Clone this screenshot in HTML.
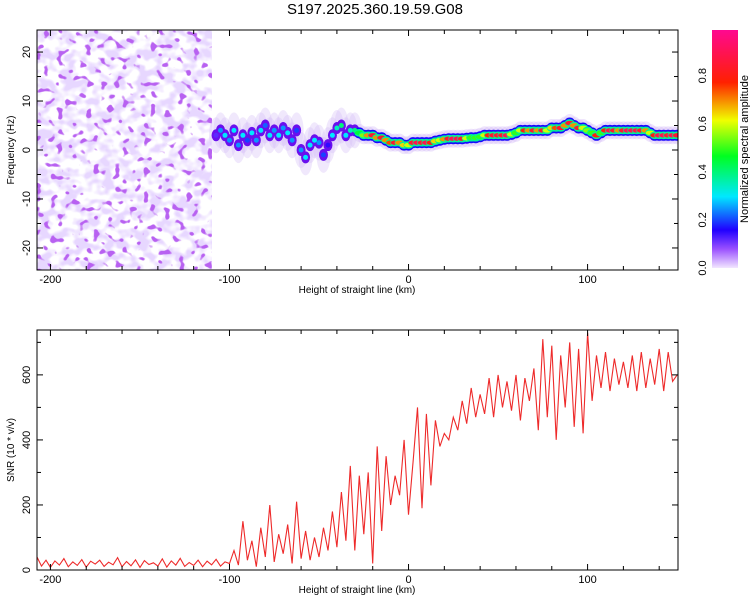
<!DOCTYPE html>
<html><head><meta charset="utf-8"><style>
html,body{margin:0;padding:0;background:#fff}
svg{display:block;font-family:"Liberation Sans",sans-serif}
</style></head><body>
<svg id="chart" width="750" height="600" viewBox="0 0 750 600">
<defs>
<filter id="noiseA" x="0" y="0" width="100%" height="100%">
<feTurbulence type="fractalNoise" baseFrequency="0.08 0.1" numOctaves="2" seed="7"/>
<feColorMatrix values="0 0 0 0 0.8  0 0 0 0 0.68  0 0 0 0 1  5 0 0 0 -2.1"/>
</filter>
<filter id="noiseB" x="0" y="0" width="100%" height="100%">
<feTurbulence type="fractalNoise" baseFrequency="0.14 0.16" numOctaves="1" seed="3"/>
<feColorMatrix values="0 0 0 0 0.48  0 0 0 0 0.12  0 0 0 0 0.88  13 0 0 0 -7.8"/>
</filter>
<linearGradient id="cbar" x1="0" y1="1" x2="0" y2="0">
<stop offset="0" stop-color="#f2e6ff"/><stop offset="0.08" stop-color="#9a50ff"/>
<stop offset="0.16" stop-color="#2000ff"/><stop offset="0.3" stop-color="#00e8ff"/>
<stop offset="0.47" stop-color="#00ff20"/><stop offset="0.62" stop-color="#f0ff00"/>
<stop offset="0.78" stop-color="#ff2000"/><stop offset="1" stop-color="#ff0890"/>
</linearGradient>
<clipPath id="clipTop"><rect x="37" y="30" width="641" height="240"/></clipPath>
<clipPath id="clipBot"><rect x="37" y="330" width="641" height="240"/></clipPath>
</defs>
<text x="375" y="14" font-size="15" text-anchor="middle">S197.2025.360.19.59.G08</text>
<g id="topPanel"></g>
<g id="botPanel"></g>
<g id="cbPanel"></g>
</svg>
<script>
const xTicks=[-200,-100,0,100];
const freqTicks=[-20,-10,0,10,20];
const snrTicks=[0,200,400,600];
const cbTicks=[0.0,0.2,0.4,0.6,0.8];
const ridgeKmStart=-107.5, ridgeStep=2.5;
const ridgeFreq=[3,4,3,2,4,1,3,2,3.5,2,4,5,3,4,3,4.5,3.5,2,4,0,-1.5,1,2,1.5,-1,1,3,
4.5,5,3,4,4,3.5,
3,3,3,2.5,2.5,2,1.5,1.5,1.5,1,1,
1.5,1.5,1.5,1.5,1.5,1.8,2,2.2,2.3,2.3,
2.3,2.3,2.4,2.5,2.5,2.7,3,3,3,3,
3,3,3.2,3.5,4,4,4,4,4,4,
4,4.5,4.5,4.5,5,5.5,5,4.5,4.5,4,
3.5,3,3.5,4,4,4,4,4,4,4,
4,4,4,3.5,3,3,3,3,3,3];
const ridgeAmp=[.12,.25,.3,.25,.3,.25,.3,.2,.3,.25,.3,.22,.3,.25,.3,.25,.3,.25,.2,.25,.3,.3,.3,.25,.2,.15,.3,
.35,.4,.3,.35,.4,.45,
.55,.7,.85,.7,.85,.7,.75,.85,.7,.65,.6,
.85,.9,.85,.9,.8,.65,.6,.7,.85,.9,
.9,.85,.6,.5,.5,.5,.6,.8,.85,.85,
.85,.9,.6,.5,.6,.8,.7,.85,.7,.85,
.6,.65,.75,.85,.7,.85,.7,.85,.6,.55,
.5,.8,.5,.8,.9,.85,.7,.85,.9,.9,
.9,.85,.7,.6,.8,.9,.9,.85,.9,.85];
const snrKmStart=-207.5, snrStep=2.5;
const snrValues=[40,12,30,8,28,15,35,10,25,14,32,9,27,18,30,11,24,16,38,10,26,13,31,8,29,17,22,12,34,9,28,15,36,11,23,14,30,10,27,16,33,12,25,20,
60,15,150,30,90,10,130,40,200,25,110,50,140,20,210,35,
120,30,100,40,130,60,
180,70,240,90,320,60,290,110,300,20,
380,120,350,200,290,230,400,170,
330,500,190,480,260,460,380,420,
400,470,430,520,450,560,470,540,
480,590,470,600,500,580,490,600,460,590,520,620,
430,710,470,690,400,660,500,700,440,680,420,730,
520,660,560,670,550,650,570,640,560,660,550,670,560,650,570,680,550,670,580,600];

const NS='http://www.w3.org/2000/svg';
function mk(tag,attrs,parent){const e=document.createElementNS(NS,tag);for(const k in attrs)e.setAttribute(k,attrs[k]);parent.appendChild(e);return e;}
const L=37,R=678;
const xS=v=>L+(v+207.5)/358*(R-L);
const fS=v=>30+(24.5-v)/49*240;
const sS=v=>570-v/738*240;
const cS=v=>268-v/0.99*238;
const stops=[[0,[242,230,255]],[.08,[154,80,255]],[.16,[32,0,255]],[.3,[0,232,255]],[.47,[0,255,32]],[.62,[240,255,0]],[.78,[255,32,0]],[1,[255,8,144]]];
function cmap(a){for(let i=1;i<stops.length;i++){if(a<=stops[i][0]){const t=(a-stops[i-1][0])/(stops[i][0]-stops[i-1][0]);const c=stops[i-1][1].map((v,j)=>Math.round(v+(stops[i][1][j]-v)*t));return `rgb(${c})`;}}return 'rgb(255,8,144)';}

function axes(g,y0,y1,yTicks,yS,minorY,yLabel){
  const fr=mk('rect',{x:L,y:y0,width:R-L,height:y1-y0,fill:'none',stroke:'#000','stroke-width':1},g);
  
  
  for(let v=-200;v<=140;v+=20){const x=xS(v);const big=v%100===0;const len=big?6:4;
    mk('line',{x1:x,y1:y1,x2:x,y2:y1-len,stroke:'#000'},g);mk('line',{x1:x,y1:y0,x2:x,y2:y0+len,stroke:'#000'},g);}
  xTicks.forEach(v=>{const t=mk('text',{x:xS(v),y:y1+13,'font-size':11,'text-anchor':'middle'},g);t.textContent=v;
    
    });
  const xl=mk('text',{x:357,y:y1+23,'font-size':10,'text-anchor':'middle'},g);xl.textContent='Height of straight line (km)';
  
  
  minorY.forEach(v=>{const y=yS(v);const big=yTicks.includes(v);const len=big?6:4;
    mk('line',{x1:L,y1:y,x2:L+len,y2:y,stroke:'#000'},g);mk('line',{x1:R,y1:y,x2:R-len,y2:y,stroke:'#000'},g);});
  yTicks.forEach(v=>{const y=yS(v);const t=mk('text',{x:0,y:0,'font-size':11,'text-anchor':'middle',transform:`translate(30,${y}) rotate(-90)`},g);t.textContent=v;
    
    });
  const yl=mk('text',{x:0,y:0,'font-size':10,'text-anchor':'middle',transform:`translate(14,${(y0+y1)/2}) rotate(-90)`},g);yl.textContent=yLabel;
  
  
}

// top spectrogram
const topG=document.getElementById('topPanel');
const tg=mk('g',{'clip-path':'url(#clipTop)'},topG);
const nx=xS(-110);
mk('rect',{x:L,y:30,width:nx-L,height:240,filter:'url(#noiseA)'},tg);
mk('rect',{x:L,y:30,width:nx-L,height:240,filter:'url(#noiseB)'},tg);
ridgeFreq.forEach((f,i)=>{const km=ridgeKmStart+i*ridgeStep;const x=xS(km),y=fS(f);const a=ridgeAmp[i];
  const h=mk('ellipse',{cx:x,cy:y,rx:7,ry:a<0.45?18:9,fill:'#d4bcf7',opacity:a<0.45?0.35:0.4},tg);
  
  });
ridgeFreq.forEach((f,i)=>{const km=ridgeKmStart+i*ridgeStep;const x=xS(km),y=fS(f);const a=ridgeAmp[i];
  const b=mk('ellipse',{cx:x,cy:y,rx:a<0.45?4.5:5.5,ry:a<0.45?6:5.5,fill:a<0.45?'#6a10ee':'#1808ff'},tg);
  
  });
ridgeFreq.forEach((f,i)=>{const km=ridgeKmStart+i*ridgeStep;const x=xS(km),y=fS(f);const a=ridgeAmp[i];
  if(a>=0.45){const m=mk('ellipse',{cx:x,cy:y,rx:5,ry:3.8,fill:cmap(0.38)},tg);
    
    }
  const c=mk('ellipse',{cx:x,cy:y,rx:a<0.45?2.5:4.5,ry:a<0.45?2.5:2.2,fill:cmap(a)},tg);
  
  });
axes(topG,30,270,freqTicks,fS,[-20,-15,-10,-5,0,5,10,15,20],'Frequency (Hz)');

// bottom SNR
const botG=document.getElementById('botPanel');
const bg=mk('g',{'clip-path':'url(#clipBot)'},botG);
const pts=snrValues.map((v,i)=>`${xS(snrKmStart+i*snrStep).toFixed(1)},${sS(v).toFixed(1)}`).join(' ');
const line=mk('polyline',{points:pts,fill:'none',stroke:'#ee2a2a','stroke-width':1.1},bg);


axes(botG,330,570,snrTicks,sS,[0,100,200,300,400,500,600,700],'SNR (10 * v/v)');

// colorbar
const cbG=document.getElementById('cbPanel');
const cr=mk('rect',{x:712,y:30,width:26,height:238,fill:'url(#cbar)'},cbG);


cbTicks.forEach(v=>{const y=cS(v);const t=mk('text',{x:0,y:0,'font-size':11,'text-anchor':'middle',transform:`translate(706,${y}) rotate(-90)`},cbG);t.textContent=v.toFixed(1);
  
  });
const cl=mk('text',{x:0,y:0,'font-size':11,'text-anchor':'middle',transform:'translate(748,149) rotate(-90)'},cbG);cl.textContent='Normalized spectral amplitude';


</script>
</body></html>
